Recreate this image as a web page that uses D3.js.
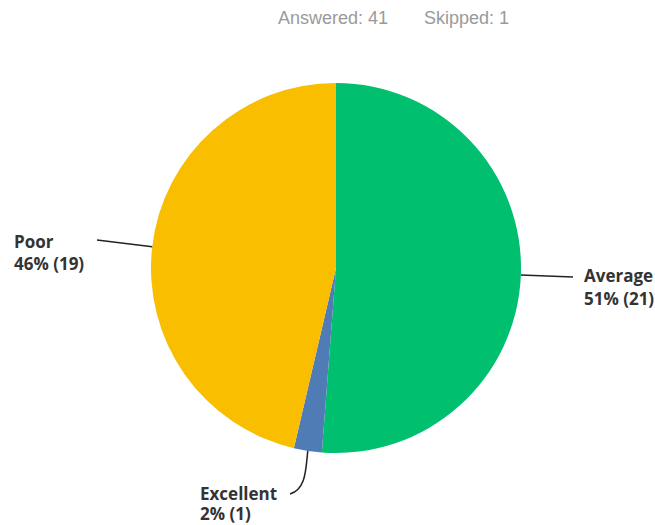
<!DOCTYPE html>
<html>
<head>
<meta charset="utf-8">
<script src="https://cdn.jsdelivr.net/npm/d3@7"></script>
<style>
  body { margin: 0; background: #fff; }
</style>
</head>
<body>
<div id="chart"></div>
<script>
// data
const categories = ["Average", "Excellent", "Poor"]
const counts = [21, 1, 19]
const percents = ["51%", "2%", "46%"]
const colors = ["#00bf6f", "#507cb6", "#f9be00"]
const answered = 41
const skipped = 1

const width = 655
const height = 525
const cx = 336
const cy = 268
const r = 185

const svg = d3.select("#chart").append("svg")
  .attr("width", width)
  .attr("height", height)

// header
svg.append("text")
  .attr("x", 278).attr("y", 24)
  .attr("font-family", "Liberation Sans, Arial, sans-serif")
  .attr("font-size", 18)
  .attr("fill", "#9a9a9a")
  .text("Answered: " + answered)
svg.append("text")
  .attr("x", 424).attr("y", 24)
  .attr("font-family", "Liberation Sans, Arial, sans-serif")
  .attr("font-size", 18)
  .attr("fill", "#9a9a9a")
  .text("Skipped: " + skipped)

const pie = d3.pie().sort(null).value(d => d)
const arcs = pie(counts)
const arc = d3.arc().innerRadius(0).outerRadius(r)

const g = svg.append("g").attr("transform", `translate(${cx},${cy})`)
g.selectAll("path")
  .data(arcs)
  .enter()
  .append("path")
  .attr("d", arc)
  .attr("fill", (d, i) => colors[i])

const labelPos = [
  { x: 584, y: 282, dy: 23 },
  { x: 200, y: 500, dy: 20 },
  { x: 14, y: 248, dy: 22 }
]

function edgePoint(d, frac) {
  const a = d.startAngle + (d.endAngle - d.startAngle) * frac
  return [cx + Math.sin(a) * r, cy - Math.cos(a) * r]
}

const lineG = svg.append("g")
  .attr("fill", "none")
  .attr("stroke", "#222")
  .attr("stroke-width", 1.5)

// Average
let p = edgePoint(arcs[0], 0.5)
lineG.append("path").attr("d", `M${p[0]},${p[1]} L573,277`)
// Excellent
p = edgePoint(arcs[1], 0.5)
lineG.append("path").attr("d", `M${p[0]},${p[1]} C${p[0] - 2},${p[1] + 20} ${p[0] - 2},${p[1] + 38} 290,494`)
// Poor
p = edgePoint(arcs[2], 0.5)
lineG.append("path").attr("d", `M${p[0]},${p[1]} L97,240`)

const labels = svg.append("g")
  .attr("font-family", "'Open Sans', sans-serif")
  .attr("font-weight", "bold")
  .attr("font-size", 17)
  .attr("fill", "#333")

categories.forEach((c, i) => {
  const t = labels.append("text")
    .attr("x", labelPos[i].x)
    .attr("y", labelPos[i].y)
  t.append("tspan").attr("x", labelPos[i].x).text(c)
  t.append("tspan").attr("x", labelPos[i].x).attr("dy", labelPos[i].dy).text(`${percents[i]} (${counts[i]})`)
})
</script>
</body>
</html>
